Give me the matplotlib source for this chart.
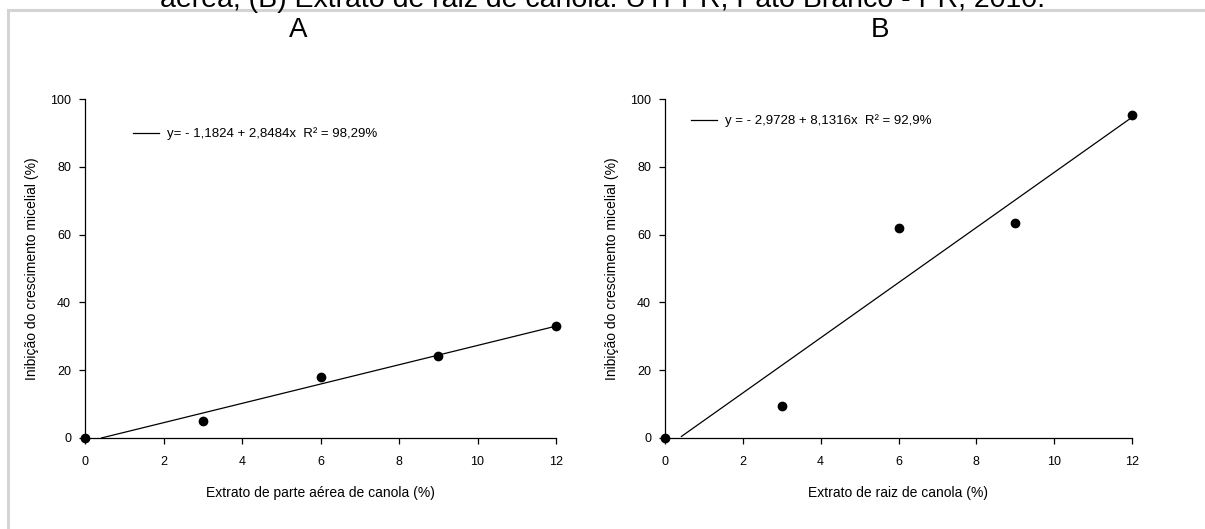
import matplotlib
matplotlib.use("Agg")
import matplotlib.pyplot as plt
from matplotlib.lines import Line2D
import numpy as np

plt.rcParams['font.family'] = ['Liberation Sans', 'DejaVu Sans']

# Data
doses = [0, 3, 6, 9, 12]
inib_parte_aerea = [0, 5.0, 18.0, 24.2, 33.0]
inib_raiz = [0, 9.4, 62.0, 63.4, 95.3]
coef_a = (-1.1824, 2.8484)
coef_b = (-2.9728, 8.1316)
label_a = "y= - 1,1824 + 2,8484x  R² = 98,29%"
label_b = "y = - 2,9728 + 8,1316x  R² = 92,9%"
xlabels = ["Extrato de parte aérea de canola (%)", "Extrato de raiz de canola (%)"]
ylabel = "Inibição do crescimento micelial (%)"
titles = ["A", "B"]
caption = "aérea; (B) Extrato de raiz de canola. UTFPR, Pato Branco - PR, 2010."
xticks = [0, 2, 4, 6, 8, 10, 12]
yticks = [0, 20, 40, 60, 80, 100]

W, H = 1205, 529
fig = plt.figure(figsize=(W / 100, H / 100), dpi=100)

# gray frame
fig.add_artist(Line2D([8 / W, 8 / W], [0, 1 - 10 / H], color='#d4d4d4', lw=2.2,
                      transform=fig.transFigure))
fig.add_artist(Line2D([8 / W, 1], [1 - 10 / H, 1 - 10 / H], color='#d4d4d4', lw=2.2,
                      transform=fig.transFigure))

fig.text(603 / W, 1 - 7 / H, caption, ha='center', va='baseline', fontsize=20.5)

panels = [
    (85, 556, inib_parte_aerea, coef_a, label_a, (133, 134), 298),
    (665, 1132, inib_raiz, coef_b, label_b, (691, 121), 880),
]

for i, (x0, x1, ys, coef, lab, legpos, tx) in enumerate(panels):
    ax = fig.add_axes([x0 / W, (H - 438) / H, (x1 - x0) / W, (438 - 99) / H])
    xr = np.linspace(0, 12, 200)
    yr = coef[0] + coef[1] * xr
    m = yr >= 0
    ax.plot(xr[m], yr[m], color='black', lw=0.9, label=lab)
    ax.plot(doses, ys, 'o', color='black', ms=6, clip_on=False, zorder=5)
    ax.set_xlim(0, 12)
    ax.set_ylim(0, 100)
    ax.set_xticks(xticks)
    ax.set_yticks(yticks)
    ax.tick_params(direction='out', length=4, width=0.9, labelsize=9)
    ax.tick_params(axis='x', pad=9)
    ax.tick_params(axis='y', pad=6)
    for s in ['top', 'right']:
        ax.spines[s].set_visible(False)
    for s in ['left', 'bottom']:
        ax.spines[s].set_linewidth(0.9)
    ax.set_xlabel(xlabels[i], fontsize=10, labelpad=13)
    ax.set_ylabel(ylabel, fontsize=10, labelpad=8)
    lx, ly = legpos
    leg = ax.legend(loc='center left', frameon=False, fontsize=9.5, handlelength=2.0,
                    handletextpad=0.6, borderpad=0, borderaxespad=0,
                    bbox_to_anchor=((lx - x0) / (x1 - x0), (438 - ly) / (438 - 99)))
    fig.text(tx / W, 1 - 30 / H, titles[i], ha='center', va='center', fontsize=20)

fig.savefig("out.png", dpi=100)
